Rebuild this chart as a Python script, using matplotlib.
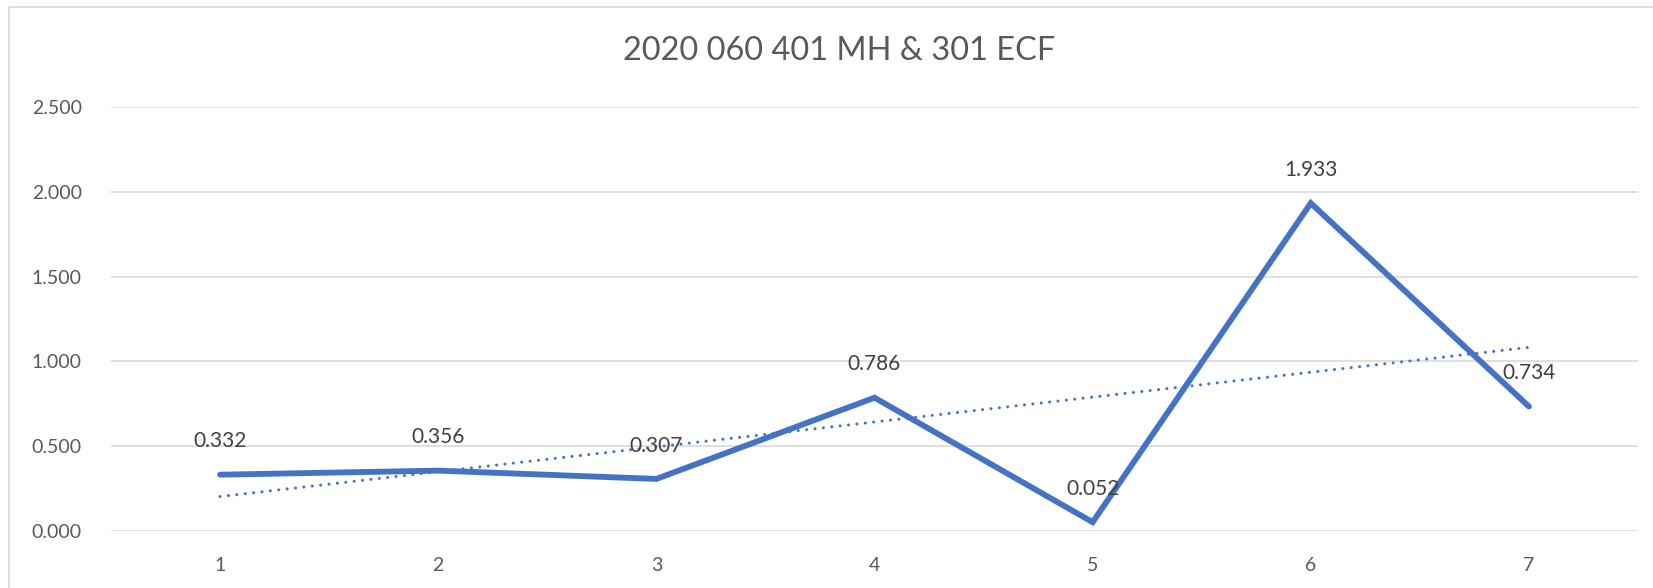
import numpy as np
import matplotlib
matplotlib.use("Agg")
import matplotlib.pyplot as plt
from matplotlib.patches import Rectangle

plt.rcParams['font.family'] = ['Lato', 'DejaVu Sans']

categories = [1, 2, 3, 4, 5, 6, 7]
values = [0.332, 0.356, 0.307, 0.786, 0.052, 1.933, 0.734]
title = "2020 060 401 MH & 301 ECF"
y_ticks = [0.0, 0.5, 1.0, 1.5, 2.0, 2.5]

W, H = 1653, 588
fig = plt.figure(figsize=(W / 100, H / 100), dpi=100)

# chart frame
fig.patches.append(Rectangle((9 / W, -0.1), 1.2, (H - 7) / H + 0.1,
                             transform=fig.transFigure, fill=False,
                             edgecolor='#D9D9D9', linewidth=1.2, clip_on=False))

ax = fig.add_axes([111 / W, (H - 531) / H, 1527 / W, 424 / H])
ax.set_xlim(0.5, 7.5)
ax.set_ylim(0, 2.5)

for s in ax.spines.values():
    s.set_visible(False)
ax.set_yticks(y_ticks)
ax.set_yticklabels([f"{v:.3f}" for v in y_ticks])
ax.set_xticks(categories)
ax.set_xticklabels([str(c) for c in categories])
ax.tick_params(axis='y', length=0, pad=21, labelsize=14, labelcolor='#595959')
ax.tick_params(axis='x', length=0, pad=19, labelsize=14, labelcolor='#595959')
ax.grid(axis='y', color='#D9D9D9', linewidth=1.2)
ax.set_axisbelow(True)

x = np.array(categories, dtype=float)
y = np.array(values)
ax.plot(x, y, color='#4472C4', linewidth=4.2, solid_joinstyle='miter',
        solid_capstyle='round', zorder=3)

# linear trend line
slope, intercept = np.polyfit(x, y, 1)
ax.plot(x, slope * x + intercept, color='#4472C4', linewidth=2.2,
        linestyle=(0, (0.01, 2.75)), dash_capstyle='round', zorder=3)

for xi, yi in zip(x, y):
    ax.annotate(f"{yi:.3f}", (xi, yi), xytext=(0, 24), textcoords='offset points',
                ha='center', va='center', fontsize=15, color='#404040', zorder=4)

fig.text(839 / W, 1 - 51 / H, title, ha='center', va='center',
         fontsize=23.4, color='#595959')

fig.savefig("out.png", dpi=100, facecolor='white')
